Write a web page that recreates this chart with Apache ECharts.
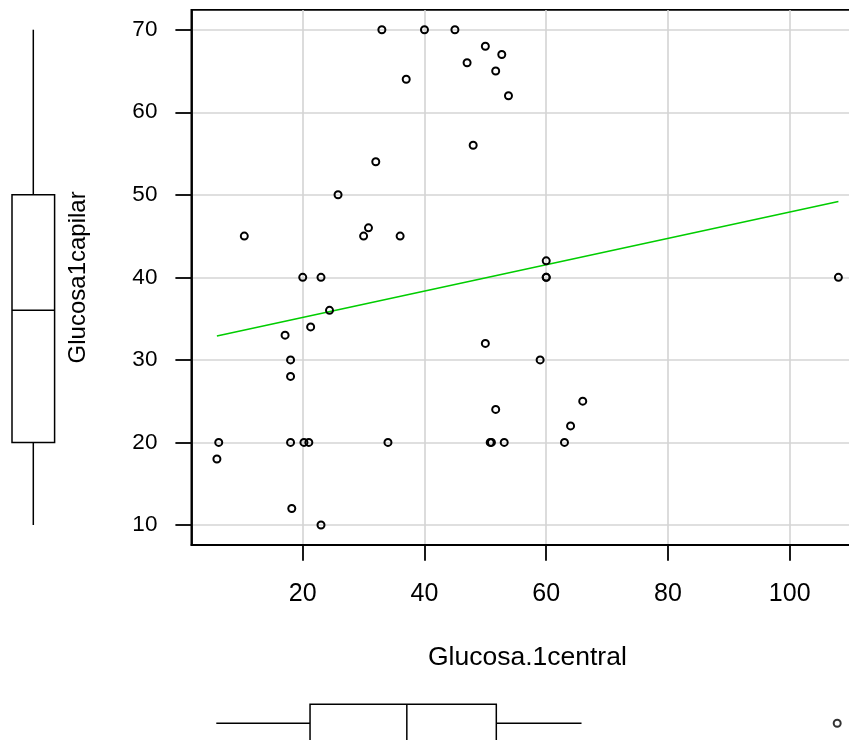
<!DOCTYPE html>
<html><head><meta charset="utf-8">
<script src="https://cdn.jsdelivr.net/npm/echarts@6/dist/echarts.min.js"></script>
<style>html,body{margin:0;padding:0;background:#fff}#c{width:849px;height:740px}</style>
</head><body><div id="c"></div>
<script>
// ---- data ----
const xCentral = [33, 40, 45, 50, 52.7, 47, 51.7, 37, 53.8, 48, 32, 25.8, 10.4, 30.8, 30, 36, 20, 23, 24.4, 21.3, 17.1, 18, 18, 6.2, 5.9, 18, 20.2, 21, 34, 50, 51.7, 50.8, 51, 53.1, 18.2, 23, 60, 60, 60, 108, 59, 66, 64, 63];
const yCapilar = [70, 70, 70, 68, 67, 66, 65, 64, 62, 56, 54, 50, 45, 46, 45, 45, 40, 40, 36, 34, 33, 30, 28, 20, 18, 20, 20, 20, 20, 32, 24, 20, 20, 20, 12, 10, 42, 40, 40, 40, 30, 25, 22, 20];
const fitX = [5.9, 108];
const fitY = [32.9, 49.2];
const yBoxStats = [10, 20, 36, 50, 70];
const xBoxStats = [5.8, 21.2, 37.1, 51.8, 65.8];
const xOutliers = [107.8];
const xTicks = [20, 40, 60, 80, 100];
const yTicks = [10, 20, 30, 40, 50, 60, 70];
const xName = 'Glucosa.1central';
const yName = 'Glucosa1capilar';

// ---- layout ----
const X_MIN = 1.71, X_MAX = 112.09, Y_MIN = 7.6, Y_MAX = 72.4;
const FONT = '"Liberation Sans", Arial, sans-serif';
const G = { left: 191.4, top: 9.9, width: 671.9, height: 534.9 };

const chart = echarts.init(document.getElementById('c'), null, { renderer: 'canvas' });

const points = xCentral.map((x, i) => [x, yCapilar[i]]);
const fitLine = fitX.map((x, i) => [x, fitY[i]]);

const lineStyleBox = { stroke: '#000', lineWidth: 1.5, fill: null };

chart.setOption({
  animation: false,
  backgroundColor: '#fff',
  grid: [
    { left: G.left, top: G.top, width: G.width, height: G.height, show: true, borderColor: '#000', borderWidth: 1.8, backgroundColor: 'transparent', outerBoundsMode: 'none', containLabel: false },
    { left: 0, top: G.top, width: 66.6, height: G.height, outerBoundsMode: 'none', containLabel: false },
    { left: G.left, top: 700, width: G.width, height: 46.6, outerBoundsMode: 'none', containLabel: false }
  ],
  xAxis: [
    {
      gridIndex: 0, type: 'value', min: X_MIN, max: X_MAX,
      axisLine: { show: true, lineStyle: { color: '#000', width: 1.8 } },
      axisTick: { show: true, customValues: xTicks, length: 16, inside: false, lineStyle: { color: '#000', width: 1.8 } },
      axisLabel: { show: true, customValues: xTicks, color: '#000', fontSize: 25, fontFamily: FONT, margin: 37, hideOverlap: false },
      splitLine: { show: true, lineStyle: { color: '#d4d4d4', width: 1.6 } },
      name: xName, nameLocation: 'middle', nameGap: 112.7,
      nameTextStyle: { color: '#000', fontSize: 26.5, fontFamily: FONT, verticalAlign: 'middle' }
    },
    { gridIndex: 1, type: 'value', min: -1, max: 1, show: false },
    { gridIndex: 2, type: 'value', min: X_MIN, max: X_MAX, show: false }
  ],
  yAxis: [
    {
      gridIndex: 0, type: 'value', min: Y_MIN, max: Y_MAX,
      axisLine: { show: true, lineStyle: { color: '#000', width: 1.8 } },
      axisTick: { show: true, customValues: yTicks, length: 16, inside: false, lineStyle: { color: '#000', width: 1.8 } },
      axisLabel: { show: true, customValues: yTicks, color: '#000', fontSize: 22.5, fontFamily: FONT, margin: 34, padding: [7, 0, 0, 0], hideOverlap: false },
      splitLine: { show: true, lineStyle: { color: '#d4d4d4', width: 1.6 } },
      name: yName, nameLocation: 'middle', nameGap: 113, nameRotate: 90,
      nameTextStyle: { color: '#000', fontSize: 24, fontFamily: FONT, verticalAlign: 'middle' }
    },
    { gridIndex: 1, type: 'value', min: Y_MIN, max: Y_MAX, show: false },
    { gridIndex: 2, type: 'value', min: -1, max: 1, show: false }
  ],
  series: [
    {
      type: 'line', xAxisIndex: 0, yAxisIndex: 0, data: fitLine,
      symbol: 'none', lineStyle: { color: '#00cd00', width: 1.6 }, z: 3, silent: true
    },
    {
      type: 'scatter', xAxisIndex: 0, yAxisIndex: 0, data: points,
      symbol: 'circle', symbolSize: 7,
      itemStyle: { color: 'rgba(0,0,0,0)', borderColor: '#000', borderWidth: 2, opacity: 1 },
      z: 4, silent: true
    },
    {
      type: 'custom', xAxisIndex: 1, yAxisIndex: 1,
      data: [[0].concat(yBoxStats)],
      encode: { x: 0, y: [1, 2, 3, 4, 5] },
      clip: false, silent: true,
      renderItem: function (params, api) {
        const cx = api.coord([api.value(0), api.value(3)])[0];
        const py = i => api.coord([api.value(0), api.value(i)])[1];
        const yMin = py(1), yQ1 = py(2), yMed = py(3), yQ3 = py(4), yMax = py(5);
        const hw = 21.3;
        return { type: 'group', children: [
          { type: 'line', shape: { x1: cx, y1: yMax, x2: cx, y2: yQ3 }, style: lineStyleBox },
          { type: 'line', shape: { x1: cx, y1: yQ1, x2: cx, y2: yMin }, style: lineStyleBox },
          { type: 'rect', shape: { x: cx - hw, y: yQ3, width: 2 * hw, height: yQ1 - yQ3 }, style: { stroke: '#000', lineWidth: 1.5, fill: '#fff' } },
          { type: 'line', shape: { x1: cx - hw, y1: yMed, x2: cx + hw, y2: yMed }, style: lineStyleBox }
        ] };
      }
    },
    {
      type: 'custom', xAxisIndex: 2, yAxisIndex: 2,
      data: [xBoxStats.concat([0])],
      encode: { x: [0, 1, 2, 3, 4], y: 5 },
      clip: false, silent: true,
      renderItem: function (params, api) {
        const cy = api.coord([api.value(2), api.value(5)])[1];
        const px = i => api.coord([api.value(i), api.value(5)])[0];
        const xMin = px(0), xQ1 = px(1), xMed = px(2), xQ3 = px(3), xMax = px(4);
        const hh = 19;
        return { type: 'group', children: [
          { type: 'line', shape: { x1: xMin, y1: cy, x2: xQ1, y2: cy }, style: lineStyleBox },
          { type: 'line', shape: { x1: xQ3, y1: cy, x2: xMax, y2: cy }, style: lineStyleBox },
          { type: 'rect', shape: { x: xQ1, y: cy - hh, width: xQ3 - xQ1, height: 2 * hh }, style: { stroke: '#000', lineWidth: 1.5, fill: '#fff' } },
          { type: 'line', shape: { x1: xMed, y1: cy - hh, x2: xMed, y2: cy + hh }, style: lineStyleBox }
        ] };
      }
    },
    {
      type: 'scatter', xAxisIndex: 2, yAxisIndex: 2,
      data: xOutliers.map(v => [v, 0]),
      symbol: 'circle', symbolSize: 7,
      itemStyle: { color: 'rgba(0,0,0,0)', borderColor: '#000', borderWidth: 2 },
      silent: true
    }
  ]
});
</script>
</body></html>
